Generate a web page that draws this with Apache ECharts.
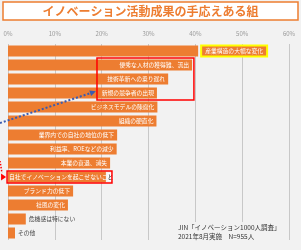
<!DOCTYPE html>
<html><head><meta charset="utf-8">
<script src="https://cdn.jsdelivr.net/npm/echarts@6/dist/echarts.min.js"></script>
<style>html,body{margin:0;padding:0;background:#f2f2f2}#c{width:301px;height:250px}</style>
</head><body><div id="c"></div>
<script>
var categories = ['産業構造の大幅な変化','優秀な人材の獲得難、流出','技術革新への乗り遅れ','新規の競争者の出現','ビジネスモデルの陳腐化','組織の硬直化','業界内での自社の地位の低下','利益率、ROEなどの減少','本業の衰退、消失','自社でイノベーションを起こせないこと','ブランド力の低下','社風の変化','危機感は特にない','その他'];
var values = [40.6, 39.3, 34.2, 31.8, 31.9, 31.7, 23.3, 23.2, 21.8, 20.9, 13.9, 12.8, 3.8, 1.5];
var tickValues = [0, 10, 20, 30, 40, 50, 60];
var FONT = '"Noto Sans CJK JP", "Noto Sans", sans-serif';
var ORANGE = '#ed7d31';

var chart = echarts.init(document.getElementById('c'), null, {renderer:'canvas'});
var data = values.map(function(v, i){
  var item = {value: v};
  if (i === 0) {
    item.label = {position:'right', distance:4, color:'#fff', backgroundColor:ORANGE, borderColor:'#ffff00', borderWidth:2, padding:[2,3,1,3]};
  } else if (i === 9) {
    item.label = {position:'insideLeft', distance:1, formatter:'{a|自社でイノベーションを起こせないこ}{b|と}',
      rich:{a:{color:'#fff', fontSize:5.8, fontFamily:FONT}, b:{color:'#000', backgroundColor:'#fff', fontSize:5.8, fontFamily:FONT, padding:[1,0,1,0]}}};
  } else if (i >= 12) {
    item.label = {position:'right', distance:3, color:'#444'};
  }
  return item;
});
chart.setOption({
  backgroundColor:'#f2f2f2',
  animation:false,
  grid:{left:8, right:12, top:44, bottom:10, containLabel:false},
  xAxis:{type:'value', position:'top', min:0, max:60, interval:10,
    axisLine:{show:false}, axisTick:{show:false},
    axisLabel:{formatter:'{value}%', color:'#999', fontSize:6, fontFamily:FONT, margin:7},
    splitLine:{show:true, lineStyle:{color:'#c8c8c8', width:1}}},
  yAxis:{type:'category', data:categories, inverse:true, show:false},
  series:[{type:'bar', data:data, barWidth:11, itemStyle:{color:ORANGE},
    label:{show:true, position:'insideRight', distance:3, color:'#fff', fontSize:5.8, fontFamily:FONT, formatter:function(p){return categories[p.dataIndex];}}}]
});

function px(v, c){ return chart.convertToPixel({gridIndex:0}, [v, c]); }
var p2a = px(19, 1), p2b = px(39.7, 3);
var p10a = px(-0.2, 9), p10b = px(22.2, 9);
var half = 7;
var g = [];
// title box
g.push({type:'rect', shape:{x:3, y:2, width:295, height:18}, style:{fill:'#fff', stroke:ORANGE, lineWidth:1.5}, z:10});
g.push({type:'text', x:150.5, y:11.5, style:{text:'イノベーション活動成果の手応えある組', fill:ORANGE, font:'bold 12px '+FONT, align:'center', verticalAlign:'middle'}, z:11});
// red boxes
g.push({type:'rect', shape:{x:p2a[0], y:p2a[1]-half, width:p2b[0]-p2a[0], height:p2b[1]-p2a[1]+2*half}, style:{fill:null, stroke:'#ff0000', lineWidth:1.5}, z:20});
g.push({type:'rect', shape:{x:p10a[0], y:p10a[1]-6, width:p10b[0]-p10a[0], height:12}, style:{fill:null, stroke:'#ff0000', lineWidth:1.5}, z:20});
// blue dotted arrow
var bx0 = 0, by0 = 123, bx1 = p2a[0]-3, by1 = px(0,3)[1]-1;
g.push({type:'line', shape:{x1:bx0, y1:by0, x2:bx1, y2:by1}, style:{stroke:'#3a5bb0', lineWidth:2, lineDash:[2,2]}, z:20});
(function(){
  var dx = bx1-bx0, dy = by1-by0, L = Math.sqrt(dx*dx+dy*dy); var ux=dx/L, uy=dy/L;
  var tip=[bx1+ux*2, by1+uy*2], back=[tip[0]-ux*6, tip[1]-uy*6];
  g.push({type:'polygon', shape:{points:[tip,[back[0]-uy*3, back[1]+ux*3],[back[0]+uy*3, back[1]-ux*3]]}, style:{fill:'#3a5bb0'}, z:20});
})();
// red dotted arrow
var ry = p10a[1];
g.push({type:'polyline', shape:{points:[[0,ry-16],[2,ry-4]]}, style:{stroke:'#ff0000', lineWidth:1.5, lineDash:[1.5,1.5], fill:null}, z:20});
g.push({type:'polygon', shape:{points:[[p10a[0]-1, ry],[p10a[0]-6, ry-3.5],[p10a[0]-6, ry+3.5]]}, style:{fill:'#ff0000'}, z:20});
// source
g.push({type:'text', x:178, y:222, style:{text:'JIN「イノベーション1000人調査」\n2021年8月実施　N=955人', fill:'#333', font:'6.5px '+FONT, lineHeight:9, verticalAlign:'top', backgroundColor:'#f2f2f2', padding:[1,1,1,0]}, z:15});
chart.setOption({graphic:g});
</script></body></html>
